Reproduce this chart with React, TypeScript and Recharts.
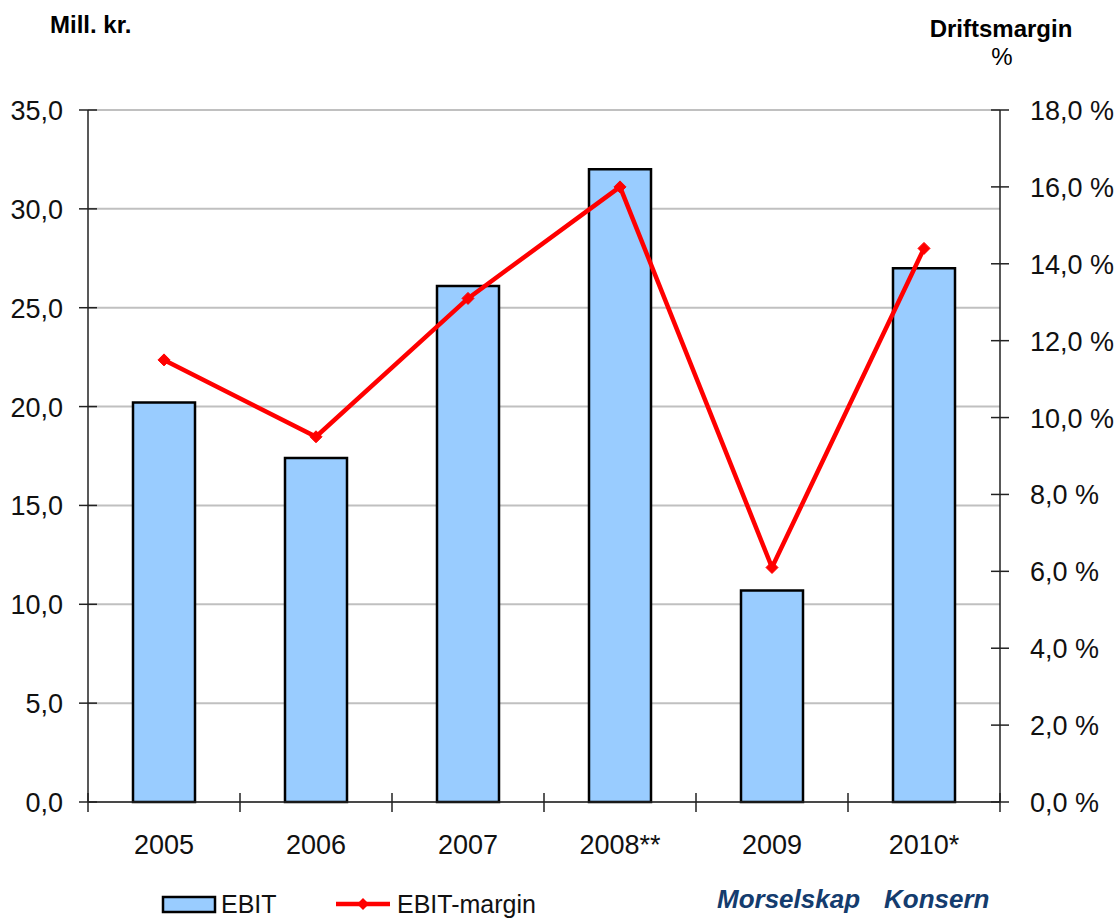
import React from "react";
import {
  ComposedChart,
  Bar,
  Line,
  XAxis,
  YAxis,
  CartesianGrid,
} from "recharts";

// Years shown on the category axis
const years = ["2005", "2006", "2007", "2008**", "2009", "2010*"];
// EBIT in million NOK
const ebit = [20.2, 17.4, 26.1, 32.0, 10.7, 27.0];
// EBIT margin in percent
const ebitMargin = [11.5, 9.5, 13.1, 16.0, 6.1, 14.4];

const leftTicks = [0, 5, 10, 15, 20, 25, 30, 35];
const rightTicks = [0, 2, 4, 6, 8, 10, 12, 14, 16, 18];

const seriesNames = { ebit: "EBIT", margin: "EBIT-margin" };
const leftTitle = "Mill. kr.";
const rightTitle = ["Driftsmargin", "%"];
const footerLabels = ["Morselskap", "Konsern"];

const data = years.map((year, i) => ({
  year,
  ebit: ebit[i],
  margin: ebitMargin[i],
}));

const W = 1118;
const H = 919;
const PLOT_LEFT = 88;
const PLOT_RIGHT = 1000;
const FONT = "'Liberation Sans', Arial, sans-serif";
const AXIS_COLOR = "#222";
const TEXT_COLOR = "#111";
const BAR_FILL = "#99ccff";
const LINE_COLOR = "#ff0000";
const NAVY = "#143c6e";

const fmt = (v: number) => v.toFixed(1).replace(".", ",");

const LeftTick = (props: any) => {
  const { x, y, payload } = props;
  return (
    <g>
      <line x1={x - 9} x2={x + 9} y1={y} y2={y} stroke={AXIS_COLOR} strokeWidth={1.5} />
      <text x={x - 25} y={y + 10} textAnchor="end" fontSize={27} fontFamily={FONT} fill={TEXT_COLOR}>
        {fmt(payload.value)}
      </text>
    </g>
  );
};

const RightTick = (props: any) => {
  const { x, y, payload } = props;
  return (
    <g>
      <line x1={x - 9} x2={x + 9} y1={y} y2={y} stroke={AXIS_COLOR} strokeWidth={1.5} />
      <text x={x + 30} y={y + 10} textAnchor="start" fontSize={27} fontFamily={FONT} fill={TEXT_COLOR}>
        {fmt(payload.value) + " %"}
      </text>
    </g>
  );
};

const BottomTick = (props: any) => {
  const { x, y, payload, index } = props;
  const half = (PLOT_RIGHT - PLOT_LEFT) / (years.length * 2);
  return (
    <g>
      {index === 0 && (
        <line x1={x - half} x2={x - half} y1={y - 9} y2={y + 10} stroke={AXIS_COLOR} strokeWidth={1.5} />
      )}
      <line x1={x + half} x2={x + half} y1={y - 9} y2={y + 10} stroke={AXIS_COLOR} strokeWidth={1.5} />
      <text x={x} y={y + 52} textAnchor="middle" fontSize={27} fontFamily={FONT} fill={TEXT_COLOR}>
        {payload.value}
      </text>
    </g>
  );
};

const Diamond = (props: any) => {
  const { cx, cy } = props;
  if (cx == null || cy == null) return null;
  const s = 6;
  return (
    <polygon
      points={`${cx},${cy - s} ${cx + s},${cy} ${cx},${cy + s} ${cx - s},${cy}`}
      fill={LINE_COLOR}
      stroke={LINE_COLOR}
      strokeWidth={1}
    />
  );
};

export default function App() {
  return (
    <div style={{ position: "absolute", left: 0, top: 0, width: W, height: H, background: "#fff" }}>
      <ComposedChart
        width={W}
        height={H}
        data={data}
        margin={{ top: 110, right: 8, bottom: 57, left: 8 }}
      >
        <CartesianGrid
          yAxisId="left"
          vertical={false}
          stroke="#c0c0c0"
          strokeWidth={2}
        />
        <XAxis
          dataKey="year"
          height={60}
          interval={0}
          tickSize={0}
          tickMargin={0}
          tickLine={false}
          axisLine={{ stroke: AXIS_COLOR, strokeWidth: 1.5 }}
          tick={<BottomTick />}
        />
        <YAxis
          yAxisId="left"
          orientation="left"
          width={80}
          domain={[0, 35]}
          ticks={leftTicks}
          interval={0}
          tickSize={0}
          tickMargin={0}
          tickLine={false}
          axisLine={{ stroke: AXIS_COLOR, strokeWidth: 1.5 }}
          tick={<LeftTick />}
        />
        <YAxis
          yAxisId="right"
          orientation="right"
          width={110}
          domain={[0, 18]}
          ticks={rightTicks}
          interval={0}
          tickSize={0}
          tickMargin={0}
          tickLine={false}
          axisLine={{ stroke: AXIS_COLOR, strokeWidth: 1.5 }}
          tick={<RightTick />}
        />
        <Bar
          yAxisId="left"
          dataKey="ebit"
          name={seriesNames.ebit}
          fill={BAR_FILL}
          stroke="#000"
          strokeWidth={2.5}
          barSize={62}
          isAnimationActive={false}
        />
        <Line
          yAxisId="right"
          type="linear"
          dataKey="margin"
          name={seriesNames.margin}
          stroke={LINE_COLOR}
          strokeWidth={4.5}
          dot={<Diamond />}
          activeDot={false}
          isAnimationActive={false}
        />
      </ComposedChart>

      <svg
        width={W}
        height={H}
        style={{ position: "absolute", left: 0, top: 0, pointerEvents: "none" }}
      >
        {/* axis titles */}
        <text x={50} y={33} fontSize={24} fontWeight="bold" fontFamily={FONT} fill="#000">
          {leftTitle}
        </text>
        <text x={1001} y={37} textAnchor="middle" fontSize={24} fontWeight="bold" fontFamily={FONT} fill="#000">
          {rightTitle[0]}
        </text>
        <text x={1002} y={65} textAnchor="middle" fontSize={24} fontFamily={FONT} fill="#000">
          {rightTitle[1]}
        </text>

        {/* legend */}
        <rect x={163} y={897} width={52} height={15} fill={BAR_FILL} stroke="#000" strokeWidth={2.5} />
        <text x={221} y={913} fontSize={25} fontFamily={FONT} fill={TEXT_COLOR}>
          {seriesNames.ebit}
        </text>
        <line x1={336} x2={390} y1={904} y2={904} stroke={LINE_COLOR} strokeWidth={4.5} />
        <polygon points="363,898 369,904 363,910 357,904" fill={LINE_COLOR} />
        <text x={397} y={913} fontSize={25} fontFamily={FONT} fill={TEXT_COLOR}>
          {seriesNames.margin}
        </text>

        {/* entity labels */}
        <text x={717} y={908} fontSize={26} fontWeight="bold" fontStyle="italic" fontFamily={FONT} fill={NAVY}>
          {footerLabels[0]}
        </text>
        <text x={884} y={908} fontSize={26} fontWeight="bold" fontStyle="italic" fontFamily={FONT} fill={NAVY}>
          {footerLabels[1]}
        </text>
      </svg>
    </div>
  );
}
